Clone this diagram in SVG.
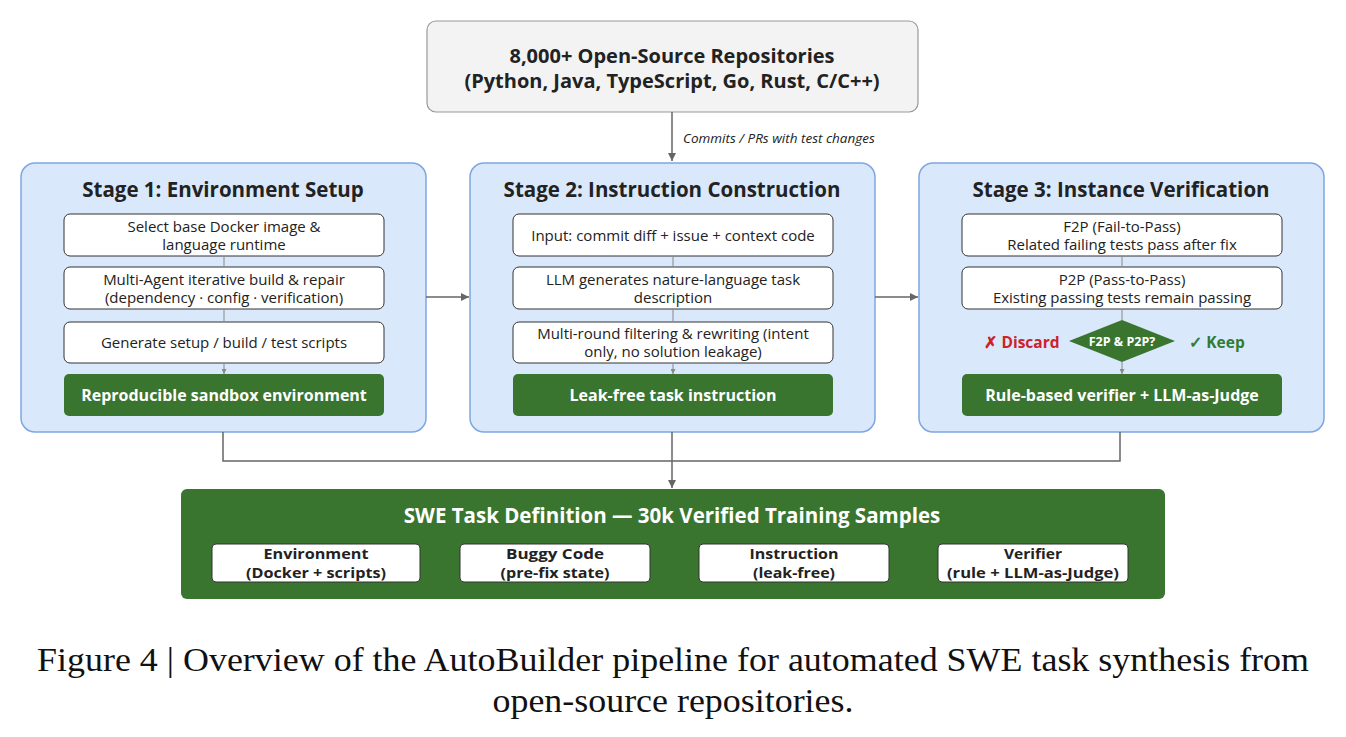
<svg xmlns="http://www.w3.org/2000/svg" width="1346" height="737" viewBox="0 0 1346 737">
<defs>
<style>
.t{font-family:"Open Sans","Noto Sans","Liberation Sans",sans-serif;fill:#222;}
.stage{fill:#dae8fc;stroke:#7ea6e0;stroke-width:1.5;}
.step{fill:#fff;stroke:#333;stroke-width:1;}
.out{fill:#3a7530;}
.title{font-size:20.5px;font-weight:700;text-anchor:middle;}
.stxt{font-size:15px;text-anchor:middle;}
.wtxt{font-size:16px;font-weight:700;fill:#fff;text-anchor:middle;}
.btxt{font-size:13.8px;font-weight:700;text-anchor:middle;}
.conn{stroke:#666;stroke-width:1.5;fill:none;}
.inner{stroke:#888;stroke-width:1;fill:none;}
.cap{font-family:"Liberation Serif","Times New Roman",serif;font-size:33px;fill:#111;text-anchor:middle;}
</style>
<marker id="ah" viewBox="0 0 10 10" refX="10" refY="5" markerWidth="8" markerHeight="8" markerUnits="userSpaceOnUse" orient="auto"><path d="M0,0 L10,5 L0,10 z" fill="#666"/></marker>
<marker id="ahs" viewBox="0 0 10 10" refX="10" refY="5" markerWidth="5" markerHeight="5" markerUnits="userSpaceOnUse" orient="auto"><path d="M0,0 L10,5 L0,10 z" fill="#888"/></marker>
</defs>
<rect width="1346" height="737" fill="#fff"/>

<g id="repos">
<rect x="427" y="21" width="491" height="91" rx="9" fill="#f3f3f3" stroke="#999" stroke-width="1.2"/>
<text class="t" x="672" y="63" font-size="20" font-weight="700" text-anchor="middle">8,000+ Open-Source Repositories</text>
<text class="t" x="672" y="88" font-size="20" font-weight="700" text-anchor="middle">(Python, Java, TypeScript, Go, Rust, C/C++)</text>
</g>

<g id="stage1">
<rect class="stage" x="21" y="163" width="405" height="269" rx="14"/>
<text class="t title" x="223" y="197">Stage 1: Environment Setup</text>
<rect class="step" x="64" y="214" width="320" height="42" rx="6"/>
<text class="t stxt" x="224" y="232">Select base Docker image &amp;</text>
<text class="t stxt" x="224" y="250">language runtime</text>
<rect class="step" x="64" y="267" width="320" height="42" rx="6"/>
<text class="t stxt" x="224" y="285">Multi-Agent iterative build &amp; repair</text>
<text class="t stxt" x="224" y="303">(dependency · config · verification)</text>
<rect class="step" x="64" y="322" width="320" height="41" rx="6"/>
<text class="t stxt" x="224" y="348">Generate setup / build / test scripts</text>
<rect class="out" x="64" y="374" width="320" height="42" rx="5"/>
<text class="t wtxt" x="224" y="401">Reproducible sandbox environment</text>
</g>

<g id="stage2">
<rect class="stage" x="470" y="163" width="405" height="269" rx="14"/>
<text class="t title" x="672" y="197">Stage 2: Instruction Construction</text>
<rect class="step" x="513" y="214" width="320" height="42" rx="6"/>
<text class="t stxt" x="673" y="241">Input: commit diff + issue + context code</text>
<rect class="step" x="513" y="267" width="320" height="42" rx="6"/>
<text class="t stxt" x="673" y="285">LLM generates nature-language task</text>
<text class="t stxt" x="673" y="303">description</text>
<rect class="step" x="513" y="322" width="320" height="41" rx="6"/>
<text class="t stxt" x="673" y="339">Multi-round filtering &amp; rewriting (intent</text>
<text class="t stxt" x="673" y="357">only, no solution leakage)</text>
<rect class="out" x="513" y="374" width="320" height="42" rx="5"/>
<text class="t wtxt" x="673" y="401">Leak-free task instruction</text>
</g>

<g id="stage3">
<rect class="stage" x="919" y="163" width="405" height="269" rx="14"/>
<text class="t title" x="1121" y="197">Stage 3: Instance Verification</text>
<rect class="step" x="962" y="214" width="320" height="42" rx="6"/>
<text class="t stxt" x="1122" y="232">F2P (Fail-to-Pass)</text>
<text class="t stxt" x="1122" y="250">Related failing tests pass after fix</text>
<rect class="step" x="962" y="267" width="320" height="42" rx="6"/>
<text class="t stxt" x="1122" y="285">P2P (Pass-to-Pass)</text>
<text class="t stxt" x="1122" y="303">Existing passing tests remain passing</text>
<polygon points="1122,320 1175,341 1122,362 1069,341" fill="#3a7530"/>
<text class="t" x="1122" y="345.5" font-size="12.5" font-weight="700" text-anchor="middle" style="fill:#fff">F2P &amp; P2P?</text>
<text class="t" x="1022" y="348" font-size="15.5" font-weight="700" text-anchor="middle" style="fill:#cc2229">✗ Discard</text>
<text class="t" x="1217" y="348" font-size="15.5" font-weight="700" text-anchor="middle" style="fill:#2e7d32">✓ Keep</text>
<rect class="out" x="962" y="374" width="320" height="42" rx="5"/>
<text class="t wtxt" x="1122" y="401">Rule-based verifier + LLM-as-Judge</text>
</g>

<g id="result">
<rect x="181" y="489" width="984" height="110" rx="6" fill="#3a7530"/>
<text class="t" x="672" y="523" font-size="20.5" font-weight="700" text-anchor="middle" style="fill:#fff">SWE Task Definition — 30k Verified Training Samples</text>
<rect class="step" x="212" y="544" width="208" height="38" rx="4"/>
<text class="t btxt" x="316" y="558.5" textLength="105" lengthAdjust="spacingAndGlyphs">Environment</text>
<text class="t btxt" x="316" y="578" textLength="140" lengthAdjust="spacingAndGlyphs">(Docker + scripts)</text>
<rect class="step" x="460" y="544" width="190" height="38" rx="4"/>
<text class="t btxt" x="555" y="558.5" textLength="98" lengthAdjust="spacingAndGlyphs">Buggy Code</text>
<text class="t btxt" x="555" y="578" textLength="109" lengthAdjust="spacingAndGlyphs">(pre-fix state)</text>
<rect class="step" x="699" y="544" width="190" height="38" rx="4"/>
<text class="t btxt" x="794" y="558.5" textLength="89" lengthAdjust="spacingAndGlyphs">Instruction</text>
<text class="t btxt" x="794" y="578" textLength="82" lengthAdjust="spacingAndGlyphs">(leak-free)</text>
<rect class="step" x="938" y="544" width="190" height="38" rx="4"/>
<text class="t btxt" x="1033" y="558.5" textLength="58" lengthAdjust="spacingAndGlyphs">Verifier</text>
<text class="t btxt" x="1033" y="578" textLength="172" lengthAdjust="spacingAndGlyphs">(rule + LLM-as-Judge)</text>
</g>

<g id="connectors">
<line class="conn" x1="672" y1="112" x2="672" y2="161" marker-end="url(#ah)"/>
<text class="t" x="683" y="143" font-size="13.5" font-style="italic">Commits / PRs with test changes</text>
<line class="conn" x1="426" y1="297" x2="469" y2="297" marker-end="url(#ah)"/>
<line class="conn" x1="875" y1="297" x2="918" y2="297" marker-end="url(#ah)"/>
<polyline class="conn" points="223,432 223,461 1120,461 1120,432"/>
<line class="conn" x1="672" y1="432" x2="672" y2="488" marker-end="url(#ah)"/>
<line class="inner" x1="224" y1="256" x2="224" y2="267"/>
<line class="inner" x1="224" y1="309" x2="224" y2="322"/>
<line class="inner" x1="224" y1="363" x2="224" y2="374" marker-end="url(#ahs)"/>
<line class="inner" x1="673" y1="256" x2="673" y2="267"/>
<line class="inner" x1="673" y1="309" x2="673" y2="322"/>
<line class="inner" x1="673" y1="363" x2="673" y2="374" marker-end="url(#ahs)"/>
<line class="inner" x1="1122" y1="256" x2="1122" y2="267"/>
<line class="inner" x1="1122" y1="309" x2="1122" y2="320"/>
<line class="inner" x1="1122" y1="362" x2="1122" y2="374" marker-end="url(#ahs)"/>
</g>

<g id="caption">
<text class="cap" x="673" y="671" textLength="1272" lengthAdjust="spacingAndGlyphs">Figure 4 | Overview of the AutoBuilder pipeline for automated SWE task synthesis from</text>
<text class="cap" x="673" y="712" textLength="361" lengthAdjust="spacingAndGlyphs">open-source repositories.</text>
</g>
</svg>
